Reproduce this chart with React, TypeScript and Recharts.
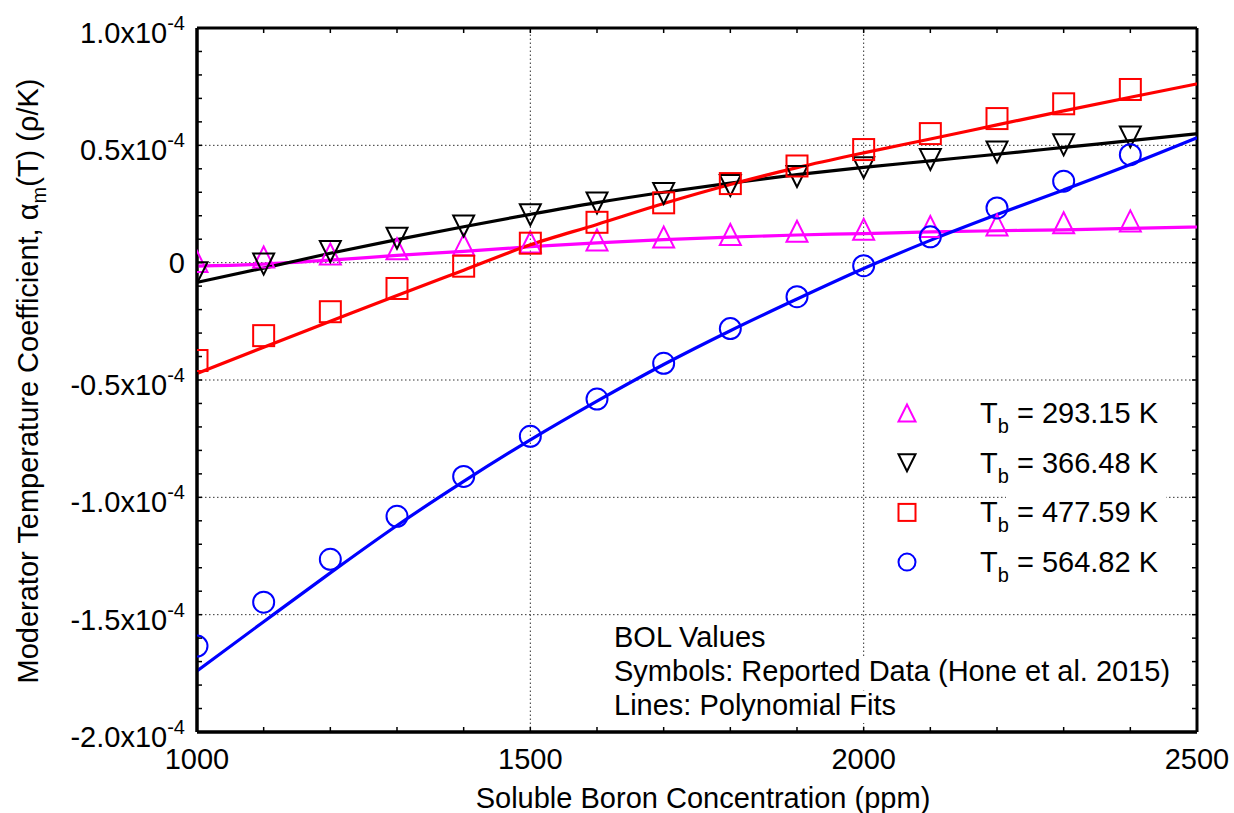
import React from 'react';
import { ComposedChart, Line, Scatter, XAxis, YAxis, ReferenceLine, Label } from 'recharts';

// soluble boron concentration (ppm) of the reported points
const boron = [1000, 1100, 1200, 1300, 1400, 1500, 1600, 1700, 1800, 1900, 2000, 2100, 2200, 2300, 2400];
const fitBoron = [1000, 1100, 1200, 1300, 1400, 1500, 1600, 1700, 1800, 1900, 2000, 2100, 2200, 2300, 2400, 2500];

// alpha_m(T), in units of 1e-4 rho/K
const t293 = [0.005, 0.024, 0.037, 0.059, 0.076, 0.088, 0.097, 0.109, 0.12, 0.134, 0.142, 0.154, 0.161, 0.17, 0.178];
const t366 = [-0.043, -0.006, 0.048, 0.104, 0.156, 0.204, 0.254, 0.295, 0.329, 0.367, 0.405, 0.44, 0.472, 0.502, 0.536];
const t477 = [-0.417, -0.311, -0.209, -0.11, -0.015, 0.083, 0.172, 0.255, 0.337, 0.412, 0.482, 0.55, 0.614, 0.677, 0.738];
const t564 = [-1.634, -1.447, -1.264, -1.081, -0.911, -0.74, -0.581, -0.429, -0.281, -0.145, -0.013, 0.11, 0.233, 0.347, 0.46];

const fit293 = [-0.015, -0.006, 0.011, 0.031, 0.048, 0.068, 0.084, 0.098, 0.109, 0.118, 0.124, 0.131, 0.136, 0.14, 0.146, 0.152];
const fit366 = [-0.084, -0.023, 0.04, 0.098, 0.153, 0.206, 0.256, 0.3, 0.339, 0.375, 0.406, 0.434, 0.462, 0.491, 0.52, 0.549];
const fit477 = [-0.472, -0.36, -0.25, -0.14, -0.032, 0.076, 0.163, 0.252, 0.333, 0.405, 0.468, 0.527, 0.587, 0.647, 0.705, 0.762];
const fit564 = [-1.74, -1.53, -1.322, -1.12, -0.932, -0.755, -0.59, -0.434, -0.29, -0.155, -0.025, 0.095, 0.205, 0.31, 0.418, 0.532];

const legendLabels = ['293.15', '366.48', '477.59', '564.82'];

const series = [
  { label: legendLabels[0], color: '#ff00ff', kind: 'up', pts: t293, fit: fit293 },
  { label: legendLabels[1], color: '#000000', kind: 'down', pts: t366, fit: fit366 },
  { label: legendLabels[2], color: '#ff0000', kind: 'square', pts: t477, fit: fit477 },
  { label: legendLabels[3], color: '#0000ff', kind: 'circle', pts: t564, fit: fit564 },
];

const notes = ['BOL Values', 'Symbols: Reported Data (Hone et al. 2015)', 'Lines: Polynomial Fits'];
const noteWidths = [164, 566, 292];

const xTicks = Array.from({ length: 16 }, (_, i) => 1000 + i * 100);
const yTicks = Array.from({ length: 31 }, (_, i) => (i - 20) / 10);
const xGrid = [1500, 2000];
const yGrid = [-1.5, -1.0, -0.5, 0, 0.5];
const xFrame = [1000, 2500];
const yFrame = [-2, 1];

const FONT = '"Liberation Sans", Arial, sans-serif';

function marker(kind: string, cx: number, cy: number, s: number, color: string) {
  const h = s / 2;
  const common = { fill: 'none', stroke: color, strokeWidth: 2 };
  if (kind === 'up')
    return <polygon points={`${cx},${cy - h} ${cx - h},${cy + h} ${cx + h},${cy + h}`} {...common} />;
  if (kind === 'down')
    return <polygon points={`${cx},${cy + h} ${cx - h},${cy - h} ${cx + h},${cy - h}`} {...common} />;
  if (kind === 'square') return <rect x={cx - h} y={cy - h} width={s} height={s} {...common} />;
  return <circle cx={cx} cy={cy} r={h} {...common} />;
}

const BottomTick = ({ x, y, payload }: any) => (
  <g>
    <line x1={x} x2={x} y1={y} y2={y - 5} stroke="#000" strokeWidth={1.5} />
    {payload.value % 500 === 0 && (
      <text x={x} y={y + 37} textAnchor="middle" fontSize={29} fill="#000">
        {payload.value}
      </text>
    )}
  </g>
);

const TopTick = ({ x, y }: any) => <line x1={x} x2={x} y1={y} y2={y + 5} stroke="#000" strokeWidth={1.5} />;

const RightTick = ({ x, y }: any) => <line x1={x - 5} x2={x} y1={y} y2={y} stroke="#000" strokeWidth={1.5} />;

const LeftTick = ({ x, y, payload }: any) => {
  const v = payload.value;
  const major = Math.abs(v * 2 - Math.round(v * 2)) < 1e-6;
  let label = null;
  if (major) {
    label =
      Math.abs(v) < 1e-9 ? (
        <text x={x - 12} y={y + 10.5} textAnchor="end" fontSize={29} fill="#000">
          0
        </text>
      ) : (
        <text x={x - 12} y={y + 15} textAnchor="end" fontSize={29} fill="#000">
          {v.toFixed(1)}x10
          <tspan dy={-13} fontSize={20}>
            -4
          </tspan>
        </text>
      );
  }
  return (
    <g>
      <line x1={x} x2={x + 5} y1={y} y2={y} stroke="#000" strokeWidth={1.5} />
      {label}
    </g>
  );
};

const axisLine = { stroke: '#000', strokeWidth: 3 };

export default function App() {
  return (
    <div style={{ position: 'absolute', left: 0, top: 0, width: 1234, height: 813, background: '#fff', fontFamily: FONT }}>
      <ComposedChart width={1234} height={813} margin={{ top: 27, right: 36, bottom: 0, left: 0 }}>
        <XAxis
          xAxisId="b"
          dataKey="x"
          type="number"
          domain={[1000, 2500]}
          ticks={xTicks}
          interval={0}
          allowDataOverflow
          height={81}
          tickSize={0}
          tickMargin={0}
          tickLine={false}
          axisLine={axisLine}
          tick={<BottomTick />}
        >
          <Label
            content={() => (
              <text x={703} y={808} textAnchor="middle" fontSize={29} fill="#000">
                Soluble Boron Concentration (ppm)
              </text>
            )}
          />
        </XAxis>
        <XAxis
          xAxisId="t"
          orientation="top"
          dataKey="x"
          type="number"
          domain={[1000, 2500]}
          ticks={xTicks}
          interval={0}
          allowDataOverflow
          height={1}
          tickSize={0}
          tickMargin={0}
          tickLine={false}
          axisLine={false}
          tick={<TopTick />}
        />
        <YAxis
          yAxisId="l"
          type="number"
          domain={[-2, 1]}
          ticks={yTicks}
          interval={0}
          allowDataOverflow
          width={197}
          tickSize={0}
          tickMargin={0}
          tickLine={false}
          axisLine={axisLine}
          tick={<LeftTick />}
        >
          <Label
            content={() => (
              <text transform="translate(38,381) rotate(-90)" textAnchor="middle" fontSize={29} fill="#000">
                Moderator Temperature Coefficient, α
                <tspan dy={8} fontSize={20}>
                  m
                </tspan>
                <tspan dy={-8}>(T) (ρ/K)</tspan>
              </text>
            )}
          />
        </YAxis>
        <YAxis
          yAxisId="r"
          orientation="right"
          type="number"
          domain={[-2, 1]}
          ticks={yTicks}
          interval={0}
          allowDataOverflow
          width={1}
          tickSize={0}
          tickMargin={0}
          tickLine={false}
          axisLine={false}
          tick={<RightTick />}
        />

        {xGrid.map((v) => (
          <ReferenceLine key={'gx' + v} x={v} xAxisId="b" yAxisId="l" stroke="#333" strokeWidth={1} strokeDasharray="1.5 2.5" />
        ))}
        {yGrid.map((v) => (
          <ReferenceLine key={'gy' + v} y={v} xAxisId="b" yAxisId="l" stroke="#333" strokeWidth={1} strokeDasharray="1.5 2.5" />
        ))}
        {xFrame.map((v) => (
          <ReferenceLine key={'fx' + v} x={v} xAxisId="b" yAxisId="l" stroke="#000" strokeWidth={3} />
        ))}
        {yFrame.map((v) => (
          <ReferenceLine key={'fy' + v} y={v} xAxisId="b" yAxisId="l" stroke="#000" strokeWidth={3} />
        ))}

        {/* invisible copy of one fit, only so the top and right tick axes get drawn */}
        <Line
          xAxisId="t"
          yAxisId="r"
          data={fitBoron.map((x, i) => ({ x, y: fit293[i] }))}
          dataKey="y"
          stroke="none"
          dot={false}
          activeDot={false}
          isAnimationActive={false}
        />

        {series.map((s) => (
          <Line
            key={'fit' + s.label}
            xAxisId="b"
            yAxisId="l"
            data={fitBoron.map((x, i) => ({ x, y: s.fit[i] }))}
            dataKey="y"
            type="monotone"
            stroke={s.color}
            strokeWidth={3.2}
            dot={false}
            isAnimationActive={false}
          />
        ))}
        {series.map((s) => (
          <Scatter
            key={'pts' + s.label}
            xAxisId="b"
            yAxisId="l"
            data={boron.map((x, i) => ({ x, y: s.pts[i] }))}
            dataKey="y"
            isAnimationActive={false}
            shape={(p: any) => marker(s.kind, p.cx, p.cy, 21, s.color)}
          />
        ))}
      </ComposedChart>

      <svg width={1234} height={813} style={{ position: 'absolute', left: 0, top: 0, pointerEvents: 'none' }}>
        {series.map((s, i) => {
          const cy = 413 + i * 49.7;
          return (
            <g key={'lg' + s.label}>
              <rect x={1006} y={cy - 24} width={160} height={48} fill="#fff" />
              {marker(s.kind, 907, cy, 17, s.color)}
              <text x={980} y={cy + 10} fontSize={29} fill="#000">
                T
                <tspan dy={10} fontSize={20}>
                  b
                </tspan>
                <tspan dy={-10}> = {s.label} K</tspan>
              </text>
            </g>
          );
        })}
        {notes.map((n, i) => {
          const by = 647 + i * 34;
          return (
            <g key={'note' + i}>
              <rect x={610} y={by - 24} width={noteWidths[i]} height={32} fill="#fff" />
              <text x={614} y={by} fontSize={29} fill="#000">
                {n}
              </text>
            </g>
          );
        })}
      </svg>
    </div>
  );
}
